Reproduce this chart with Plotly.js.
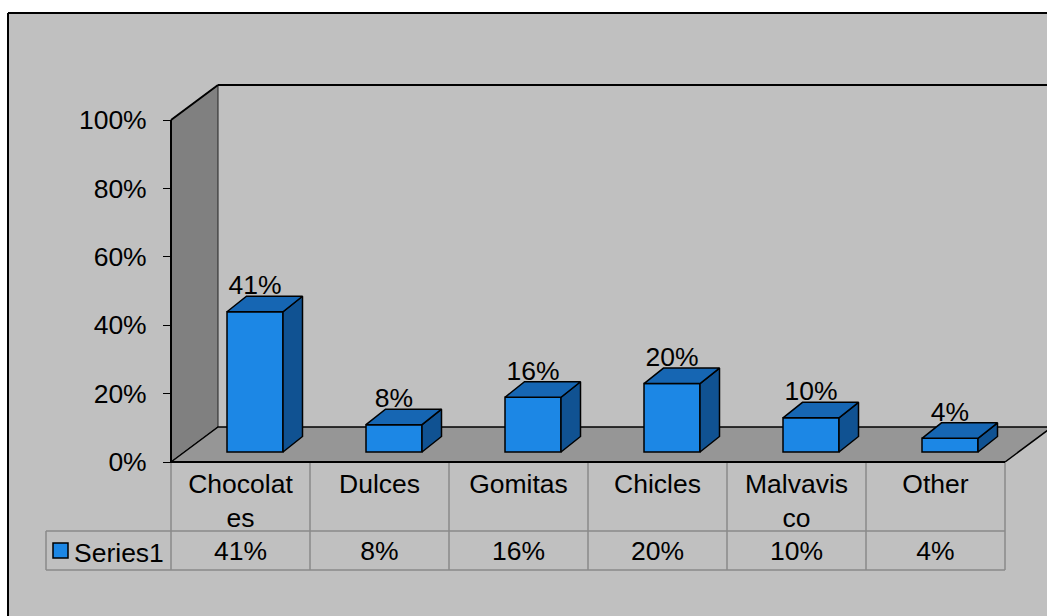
<!DOCTYPE html>
<html><head><meta charset="utf-8">
<script src="https://cdn.plot.ly/plotly-3.0.1.min.js"></script>
<style>html,body{margin:0;padding:0;background:#fff;}#chart{width:1047px;height:616px;}</style>
</head><body><div id="chart"></div>
<script>
// ---- data ----
const categories = ['Chocolates', 'Dulces', 'Gomitas', 'Chicles', 'Malvavisco', 'Other'];
const tickLabels = ['Chocolat<br>es', 'Dulces', 'Gomitas', 'Chicles', 'Malvavis<br>co', 'Other'];
const values = [41, 8, 16, 20, 10, 4];
const seriesName = 'Series1';
const yTicks = [0, 20, 40, 60, 80, 100];
const yTickLabels = ['0%', '20%', '40%', '60%', '80%', '100%'];

// ---- geometry (pixel -> data unit conversions) ----
const W = 1047, H = 616, L = 8, T = 13;
const PXX = 139, PXY = 3.42;          // px per category, px per percent
const AXPX = 171, ZEROPX = 462;       // front-left axis x px, zero line y px
const px2x = p => -0.5 + (p - AXPX) / PXX;
const px2y = p => (ZEROPX - p) / PXY;
const xmin = px2x(L), xmax = px2x(W);
const ymin = px2y(H), ymax = px2y(T);
const DX = 47 / PXX, DY = 35 / PXY;   // floor depth
const FX = 14.5 / PXX, FY = 10 / PXY; // bar front offset into floor
const HW = 28 / PXX;                  // bar half width
const BX = 19.5 / PXX, BY = 15.5 / PXY; // bar depth
const X0 = -0.5, XN = categories.length - 0.5;
const YTOP = yTicks[yTicks.length - 1];

const FRONT = '#1c87e5', TOP = '#1666b3', SIDE = '#105292';
const FONT = {family: 'Liberation Sans, Arial, sans-serif', size: 26.5, color: '#000'};
const idx = categories.map((c, i) => i);

// ---- traces ----
const front = {
  type: 'bar', name: seriesName,
  x: idx.map(i => i + FX), y: values, base: FY, width: 2 * HW,
  marker: {color: FRONT, line: {color: '#000', width: 1.5}},
  hoverinfo: 'skip', showlegend: false
};
const topX = [], topY = [], sideX = [], sideY = [];
values.forEach((v, i) => {
  const xl = i + FX - HW, xr = i + FX + HW, yt = FY + v;
  topX.push(xl, xr, xr + BX, xl + BX, xl, null);
  topY.push(yt, yt, yt + BY, yt + BY, yt, null);
  sideX.push(xr, xr, xr + BX, xr + BX, xr, null);
  sideY.push(FY, yt, yt + BY, FY + BY, FY, null);
});
const topFaces = {type: 'scatter', mode: 'lines', x: topX, y: topY, fill: 'toself',
  fillcolor: TOP, line: {color: '#000', width: 1.5}, hoverinfo: 'skip', showlegend: false};
const sideFaces = {type: 'scatter', mode: 'lines', x: sideX, y: sideY, fill: 'toself',
  fillcolor: SIDE, line: {color: '#000', width: 1.5}, hoverinfo: 'skip', showlegend: false};
const labels = {type: 'scatter', mode: 'text', x: idx.map(i => i + FX),
  y: values.map(v => FY + v + BY - 1.3), text: values.map(v => v + '%'),
  textposition: 'top center', textfont: FONT, hoverinfo: 'skip', showlegend: false};
const rowY = px2y(553);
const tableVals = {type: 'scatter', mode: 'text', x: idx, y: idx.map(() => rowY),
  text: values.map(v => v + '%'), textposition: 'middle center', textfont: FONT,
  hoverinfo: 'skip', showlegend: false};

// ---- decorations ----
const shapes = [];
const line = (x0, y0, x1, y1, color, width, xref, yref) =>
  shapes.push({type: 'line', x0, y0, x1, y1, xref: xref || 'x', yref: yref || 'y',
    line: {color, width}, layer: 'below'});
// left wall
shapes.push({type: 'path', xref: 'x', yref: 'y', layer: 'below',
  path: `M${X0},0 L${X0},${YTOP} L${X0 + DX},${YTOP + DY} L${X0 + DX},${DY} Z`,
  fillcolor: '#808080', line: {color: '#222', width: 1}});
// floor
shapes.push({type: 'path', xref: 'x', yref: 'y', layer: 'below',
  path: `M${X0},0 L${X0 + DX},${DY} L${XN + DX},${DY} L${XN},0 Z`,
  fillcolor: '#969696', line: {color: '#000', width: 1.5}});
// back wall top edge
line(X0 + DX, YTOP + DY, xmax + 1, YTOP + DY, '#000', 2);
line(X0 + DX, YTOP + DY, X0, YTOP, '#000', 2);
// table
const r1 = px2y(531), r2 = px2y(570), tl = px2x(46);
for (let k = 0; k <= categories.length; k++) line(X0 + k, 0, X0 + k, r2, '#8a8a8a', 1.5);
line(tl, r1, XN, r1, '#8a8a8a', 1.5);
line(tl, r2, XN, r2, '#8a8a8a', 1.5);
line(tl, r1, tl, r2, '#8a8a8a', 1.5);
// floor front edge and axis line
line(X0, 0, XN, 0, '#000', 2);
line(X0, 0, X0, YTOP, '#000', 2);
// legend key
shapes.push({type: 'rect', xref: 'x', yref: 'y', x0: px2x(53), x1: px2x(68), y0: px2y(543), y1: px2y(558),
  fillcolor: FRONT, line: {color: '#000', width: 1.5}, layer: 'above'});
// chart border (top & left)
line(0, 0, 0, 1, '#000', 2, 'paper', 'paper');
line(0, 1, 1, 1, '#000', 2, 'paper', 'paper');

const layout = {
  width: W, height: H,
  margin: {l: L, t: T, r: 0, b: 0, pad: 0},
  paper_bgcolor: '#ffffff', plot_bgcolor: '#c0c0c0',
  font: FONT, showlegend: false, hovermode: false,
  xaxis: {range: [xmin, xmax], anchor: 'free', position: (H - ZEROPX) / (H - T),
    tickmode: 'array', tickvals: idx, ticktext: tickLabels, ticks: '',
    showline: false, showgrid: false, zeroline: false, tickfont: FONT, ticklabelstandoff: 3},
  yaxis: {range: [ymin, ymax], anchor: 'free', position: (AXPX - L) / (W - L), side: 'left',
    tickmode: 'array', tickvals: yTicks, ticktext: yTickLabels, ticks: 'outside', ticklen: 8,
    tickcolor: '#000', tickwidth: 1, showline: false, showgrid: false, zeroline: false,
    tickfont: FONT, ticklabelstandoff: 11},
  annotations: [{xref: 'x', yref: 'y', x: px2x(72), y: rowY, xanchor: 'left', yanchor: 'middle',
    text: seriesName, showarrow: false, font: FONT}],
  shapes
};
Plotly.newPlot('chart', [front, sideFaces, topFaces, labels, tableVals], layout,
  {displayModeBar: false, staticPlot: true});
</script>
</body></html>
